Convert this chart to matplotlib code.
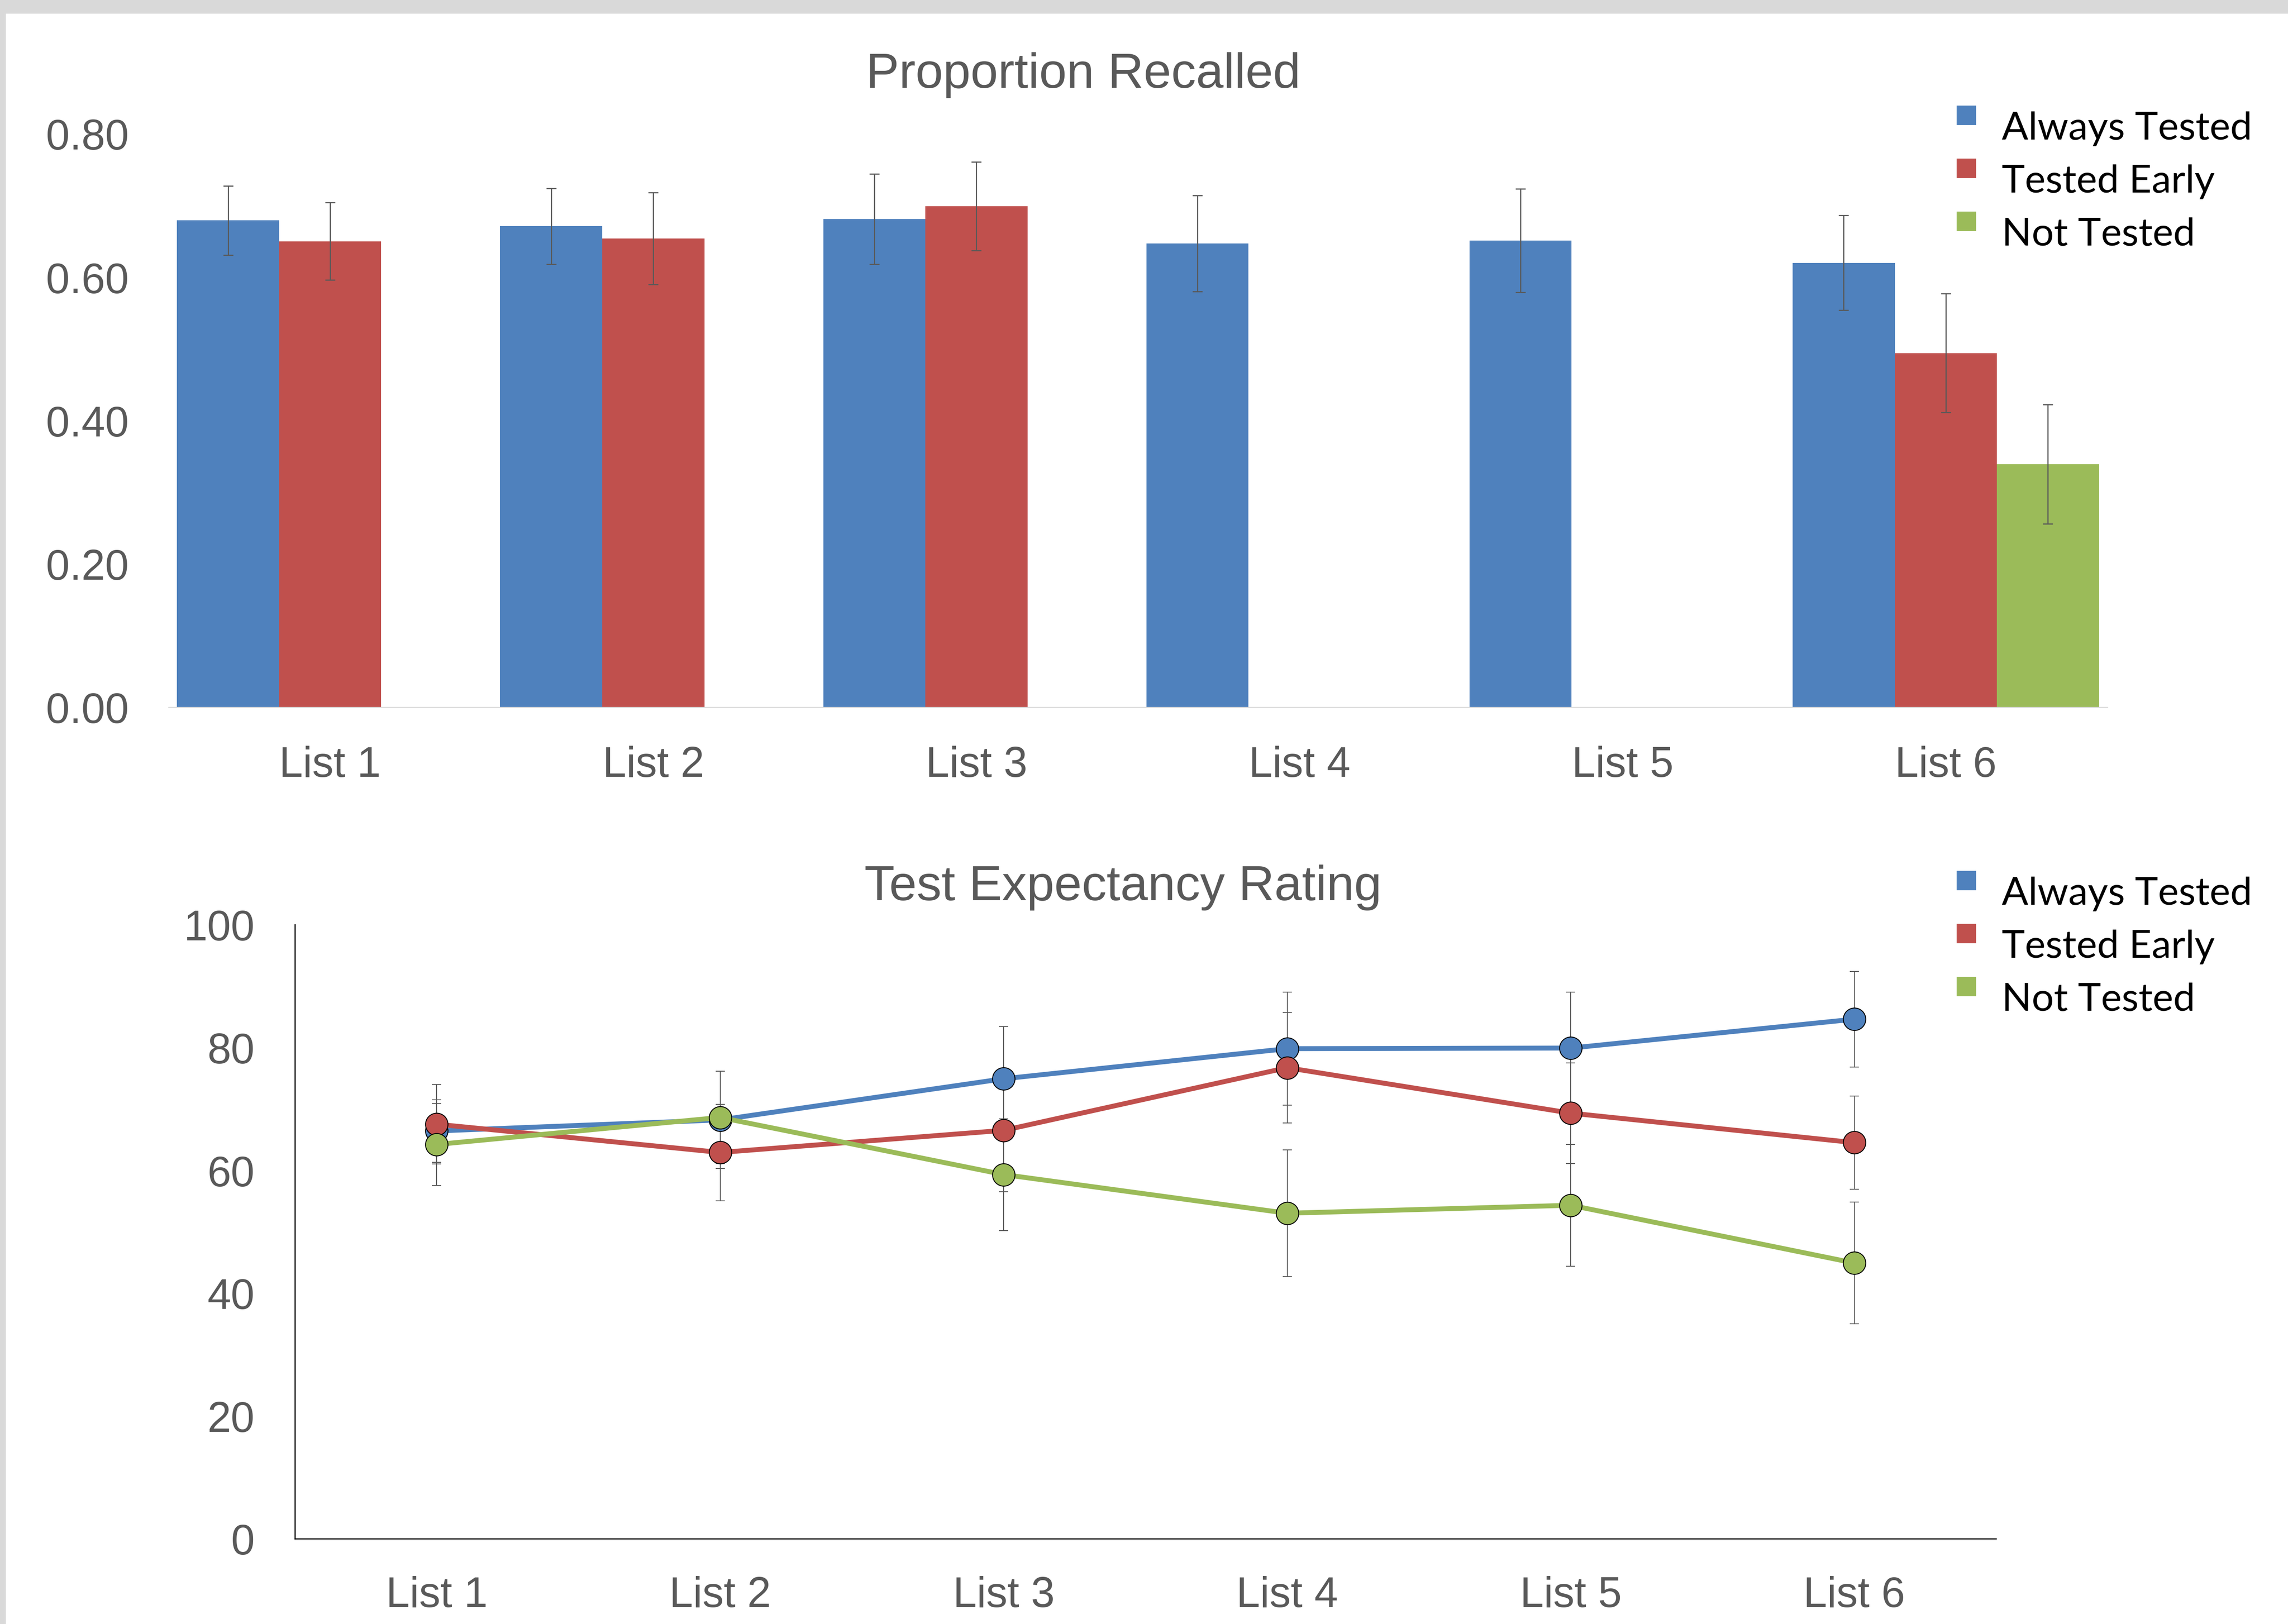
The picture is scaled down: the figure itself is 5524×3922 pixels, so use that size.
import matplotlib
matplotlib.use("Agg")
import matplotlib.pyplot as plt
from matplotlib.patches import Rectangle
import numpy as np

# ---------------- data ----------------
categories = ["List 1", "List 2", "List 3", "List 4", "List 5", "List 6"]
series_names = ["Always Tested", "Tested Early", "Not Tested"]
colors = ["#4F81BD", "#C0504D", "#9BBB59"]

# Proportion Recalled (bar chart); None = no bar
recall_always = [0.679, 0.671, 0.681, 0.647, 0.651, 0.620]
recall_always_err = [0.048, 0.053, 0.063, 0.067, 0.072, 0.066]
recall_early = [0.650, 0.654, 0.699, None, None, 0.494]
recall_early_err = [0.054, 0.064, 0.062, None, None, 0.083]
recall_not = [None, None, None, None, None, 0.339]
recall_not_err = [None, None, None, None, None, 0.083]

# Test Expectancy Rating (line chart)
rating_always = [66.4, 68.2, 74.9, 79.8, 79.9, 84.6]
rating_always_err = [5.1, 7.9, 8.5, 9.2, 9.1, 7.8]
rating_early = [67.5, 62.9, 66.5, 76.7, 69.3, 64.5]
rating_early_err = [6.5, 7.85, 10.0, 9.0, 8.2, 7.6]
rating_not = [64.2, 68.6, 59.3, 53.0, 54.3, 44.9]
rating_not_err = [6.7, 7.5, 9.1, 10.3, 9.9, 9.9]

recall_ticks = [0.0, 0.2, 0.4, 0.6, 0.8]
rating_ticks = [0, 20, 40, 60, 80, 100]

# ---------------- figure ----------------
W, H = 5524, 3923
plt.rcParams["font.family"] = ["Liberation Sans", "DejaVu Sans"]
fig = plt.figure(figsize=(W / 100, H / 100), dpi=100)
fig.patch.set_facecolor("white")


def fx(px):
    return px / W


def fy(py):
    return 1 - py / H


# gray frame (top band, left strip)
fig.add_artist(Rectangle((0, fy(34)), 1, 34 / H, transform=fig.transFigure,
                         facecolor="#D9D9D9", edgecolor="none", zorder=0))
fig.add_artist(Rectangle((0, 0), 14 / W, 1, transform=fig.transFigure,
                         facecolor="#D9D9D9", edgecolor="none", zorder=0))

TICK_COLOR = "#595959"
TICK_FS = 74
ERR_COLOR = "#595959"

# ---------------- top: bar chart ----------------
ax1 = fig.add_axes([fx(407), fy(1709), fx(5088) - fx(407), (1709 - 324) / H])
x = np.arange(len(categories))
bw = 0.316
offsets = [-bw, 0.0, bw]
recall_vals = [recall_always, recall_early, recall_not]
recall_errs = [recall_always_err, recall_early_err, recall_not_err]
for i in range(3):
    idx = [j for j, v in enumerate(recall_vals[i]) if v is not None]
    xs = [x[j] + offsets[i] for j in idx]
    hs = [recall_vals[i][j] for j in idx]
    es = [recall_errs[i][j] for j in idx]
    ax1.bar(xs, hs, width=bw, color=colors[i], zorder=2,
            yerr=es, error_kw=dict(ecolor=ERR_COLOR, elinewidth=2.0,
                                   capsize=8.5, capthick=2.0, zorder=4))
ax1.set_xlim(-0.5, len(categories) - 0.5)
ax1.set_ylim(0, 0.8)
ax1.set_xticks(x)
ax1.set_xticklabels(categories)
ax1.set_yticks(recall_ticks)
ax1.set_yticklabels([f"{t:.2f}" for t in recall_ticks])
for s in ["left", "top", "right"]:
    ax1.spines[s].set_visible(False)
ax1.spines["bottom"].set_color("#D9D9D9")
ax1.spines["bottom"].set_linewidth(1.8)
ax1.tick_params(axis="both", length=0, labelsize=TICK_FS, labelcolor=TICK_COLOR)
ax1.tick_params(axis="x", pad=66)
ax1.tick_params(axis="y", pad=69)
ax1.set_facecolor("none")

# ---------------- bottom: line chart ----------------
ax2 = fig.add_axes([fx(712), fy(3717), fx(4819) - fx(712), (3717 - 2234) / H])
rating_vals = [rating_always, rating_early, rating_not]
rating_errs = [rating_always_err, rating_early_err, rating_not_err]
for i in range(3):
    ax2.errorbar(x, rating_vals[i], yerr=rating_errs[i], fmt="none",
                 ecolor=ERR_COLOR, elinewidth=1.5, capsize=8, capthick=1.5,
                 zorder=2)
for i in range(3):
    ax2.plot(x, rating_vals[i], "-", color=colors[i], lw=8.5, marker="o",
             ms=39, mfc=colors[i], mec="black", mew=1.6, zorder=3 + i,
             solid_joinstyle="round")
ax2.set_xlim(-0.5, len(categories) - 0.5)
ax2.set_ylim(0, 100)
ax2.set_xticks(x)
ax2.set_xticklabels(categories)
ax2.set_yticks(rating_ticks)
ax2.set_yticklabels([str(t) for t in rating_ticks])
for s in ["top", "right"]:
    ax2.spines[s].set_visible(False)
for s in ["left", "bottom"]:
    ax2.spines[s].set_color("black")
    ax2.spines[s].set_linewidth(2.0)
ax2.tick_params(axis="both", length=0, labelsize=TICK_FS, labelcolor=TICK_COLOR)
ax2.tick_params(axis="x", pad=64)
ax2.tick_params(axis="y", pad=70)
ax2.set_facecolor("none")

# ---------------- titles ----------------
fig.text(fx(2615), fy(212), "Proportion Recalled", ha="center", va="baseline",
         fontsize=86, color=TICK_COLOR)
fig.text(fx(2711), fy(2174), "Test Expectancy Rating", ha="center",
         va="baseline", fontsize=86, color=TICK_COLOR)


# ---------------- legends ----------------
def draw_legend(first_top):
    for i, name in enumerate(series_names):
        top = first_top + 128 * i
        fig.add_artist(Rectangle((fx(4724), fy(top + 47)), 47 / W, 47 / H,
                                 transform=fig.transFigure,
                                 facecolor=colors[i], edgecolor="none"))
        fig.text(fx(4833), fy(top + 81), name, ha="left", va="baseline",
                 fontsize=68, color="black", family=["Lato", "DejaVu Sans"])


draw_legend(256)
draw_legend(2104)

fig.savefig("out.png", dpi=100, facecolor="white")
